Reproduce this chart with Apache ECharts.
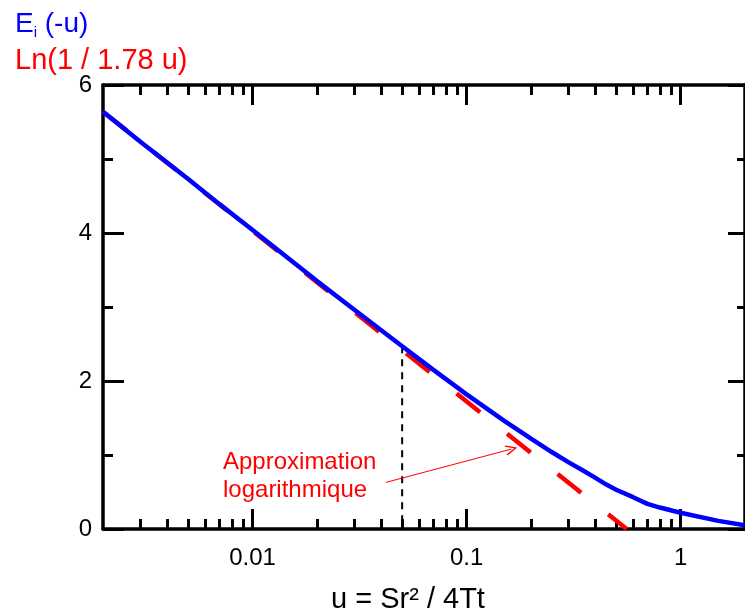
<!DOCTYPE html>
<html>
<head>
<meta charset="utf-8">
<script src="https://cdn.jsdelivr.net/npm/echarts@6/dist/echarts.min.js"></script>
<style>
html, body { margin: 0; padding: 0; background: #fff; }
#my_chart { width: 745px; height: 616px; }
</style>
</head>
<body>
<div id="my_chart"></div>
<script>
// Ei(-u)
var uValues = [0.002, 0.003, 0.005, 0.007, 0.01, 0.02, 0.03, 0.05, 0.07, 0.1, 0.15, 0.2, 0.25, 0.3, 0.35, 0.4, 0.45, 0.5, 0.6, 0.7, 0.8, 1, 1.5, 2];
var eiValues = [5.64, 5.23, 4.73, 4.39, 4.04, 3.35, 2.96, 2.47, 2.15, 1.82, 1.46, 1.22, 1.04, 0.9, 0.79, 0.69, 0.6, 0.53, 0.43, 0.34, 0.29, 0.22, 0.11, 0.05];
// Ln(1 / 1.78 u), straight on the log axis
var lnU = [0.002, 0.56];
var lnValues = [5.64, 0];
// u = 0.05 marker
var markU = [0.05, 0.05];
var markY = [2.47, 0];
// arrow of the annotation
var arrowFrom = [0.042, 0.63];
var arrowTo = [0.162, 1.08];

var majorTicks = [0.01, 0.1, 1];
var minorTicks = [0.003, 0.004, 0.005, 0.006, 0.007, 0.008, 0.009,
    0.02, 0.03, 0.04, 0.05, 0.06, 0.07, 0.08, 0.09,
    0.2, 0.3, 0.4, 0.5, 0.6, 0.7, 0.8, 0.9];

function pairs(xs, ys) {
    var out = [];
    for (var i = 0; i < xs.length; i++) out.push([xs[i], ys[i]]);
    return out;
}

var fontName = '"Liberation Sans", Arial, sans-serif';

function logAxis(pos, ticks, len, labels, line) {
    return {
        type: 'log', logBase: 10, min: 0.002, max: 2, position: pos,
        axisLine: { show: line, lineStyle: { color: '#000', width: 3.5 } },
        axisTick: { show: true, inside: true, length: len, customValues: ticks, lineStyle: { color: '#000', width: 3 } },
        axisLabel: {
            show: labels, customValues: majorTicks, margin: 17,
            color: '#000', fontSize: 24, fontFamily: fontName,
            formatter: function (v) { return String(+(+v).toPrecision(3)); }
        },
        splitLine: { show: false }, minorTick: { show: false }
    };
}

function valAxis(pos, labels, len, minorLen) {
    return {
        type: 'value', min: 0, max: 6, interval: 2, position: pos,
        axisLine: { show: true, lineStyle: { color: '#000', width: 3.5 } },
        axisTick: { show: true, inside: true, length: len, lineStyle: { color: '#000', width: 3 } },
        minorTick: { show: true, splitNumber: 2, length: minorLen, lineStyle: { color: '#000', width: 3 } },
        axisLabel: { show: labels, margin: 11, color: '#000', fontSize: 24, fontFamily: fontName },
        splitLine: { show: false }
    };
}

var myChart = echarts.init(document.getElementById('my_chart'));
var option = {
    animation: false,
    backgroundColor: '#fff',
    grid: { left: 103, top: 85, width: 645, height: 444 },
    title: [
        {
            text: 'E{sub|i} (-u)', left: 10, top: 4,
            textStyle: {
                color: '#0000ff', fontSize: 28, fontWeight: 'normal', fontFamily: fontName,
                rich: { sub: { color: '#0000ff', fontSize: 15, fontFamily: fontName, verticalAlign: 'bottom', padding: [16, 0, 0, 0] } }
            }
        },
        {
            text: 'Ln(1 / 1.78 u)', left: 10, top: 41,
            textStyle: { color: '#ff0000', fontSize: 29, fontWeight: 'normal', fontFamily: fontName }
        },
        {
            text: 'u = Sr² / 4Tt', left: 326, top: 580,
            textStyle: { color: '#000', fontSize: 29, fontWeight: 'normal', fontFamily: fontName }
        },
        {
            text: 'Approximation\nlogarithmique', left: 218, top: 443,
            textStyle: { color: '#ff0000', fontSize: 24, lineHeight: 28, fontWeight: 'normal', fontFamily: fontName }
        }
    ],
    xAxis: [
        logAxis('bottom', majorTicks, 20, true, true),
        logAxis('bottom', minorTicks, 10, false, false),
        logAxis('top', majorTicks, 20, false, true),
        logAxis('top', minorTicks, 10, false, false)
    ],
    yAxis: [
        valAxis('left', true, 21, 10),
        valAxis('right', false, 17, 8)
    ],
    series: [
        {
            type: 'line', data: pairs(markU, markY), symbol: 'none', silent: true,
            lineStyle: { color: '#000', width: 2, type: [7, 6] }
        },
        {
            type: 'line', data: pairs(lnU, lnValues), symbol: 'none', silent: true,
            lineStyle: { color: '#ff0000', width: 4.5, type: [30, 34.6] },
            markLine: {
                silent: true, symbol: ['none', 'path://M5,0 L10,9 L9,10 L5,2.6 L1,10 L0,9 Z'], symbolSize: [10, 12],
                label: { show: false },
                lineStyle: { color: '#ff0000', width: 1, type: 'solid' },
                data: [[{ coord: arrowFrom }, { coord: arrowTo }]]
            }
        },
        {
            type: 'line', data: pairs(uValues, eiValues), symbol: 'none', silent: true,
            lineStyle: { color: '#0000ff', width: 4.5 }
        }
    ]
};
myChart.setOption(option);
</script>
</body>
</html>
